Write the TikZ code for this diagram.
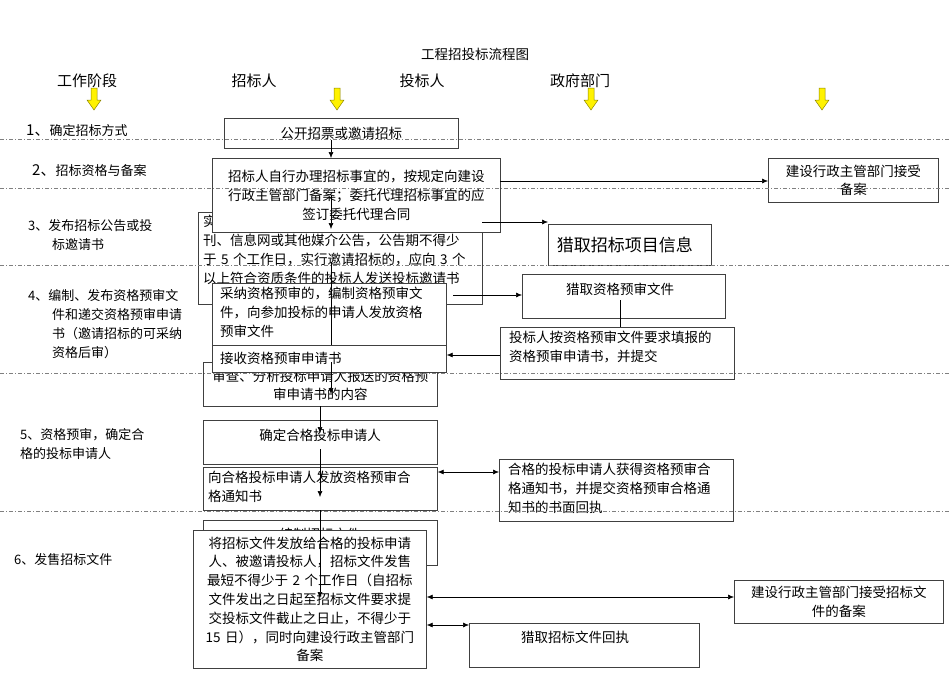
\documentclass[tikz,border=0pt]{standalone}
\usepackage{fontspec}
\setmainfont{Noto Sans CJK SC}
\usetikzlibrary{arrows.meta}
\tikzset{
 bx/.style={draw=black!75,fill=white,line width=0.7pt,inner sep=3pt},
 ln/.style={line width=0.6pt},
 ar/.style={ln,-{Latex[length=6pt,width=5pt]}},
 dar/.style={ln,{Latex[length=6pt,width=5pt]}-{Latex[length=6pt,width=5pt]}},
 sep/.style={line width=0.6pt,gray,dash pattern=on 4pt off 2pt on 1pt off 2pt},
 tx/.style={font=\fontsize{13.5}{18.8}\selectfont,inner sep=0pt},
 lab/.style={font=\fontsize{13}{19}\selectfont,inner sep=0pt,anchor=north west,align=left},
 hd/.style={font=\fontsize{15}{17}\selectfont,inner sep=0pt},
}
\newcommand{\yarr}[2]{\filldraw[fill=yellow,draw=olive,line width=0.5pt]
 (#1-3,#2) -- (#1+3,#2) -- (#1+3,#2+12) -- (#1+7,#2+12) -- (#1,#2+22) -- (#1-7,#2+12) -- (#1-3,#2+12) -- cycle;}
\begin{document}
\begin{tikzpicture}[x=1pt,y=-1pt]
\useasboundingbox (0,0) rectangle (950,672);
% headers
\node[tx] (title) at (475,54) {工程招投标流程图};
\node[hd] (h1) at (87,81) {工作阶段};
\node[hd] (h2) at (254,81) {招标人};
\node[hd] (h3) at (422,81) {投标人};
\node[hd] (h4) at (580,81) {政府部门};
\yarr{94}{88}\yarr{337}{88}\yarr{591}{88}\yarr{822}{88}
% left labels
\node[lab] (l1) at (26,124) {{\fontsize{15}{16}\selectfont 1、}确定招标方式};
\node[lab] (l2) at (32,164) {{\fontsize{15}{16}\selectfont 2、}招标资格与备案};
\node[lab] (l3) at (28,219) {3、发布招标公告或投\\\hspace*{24pt}标邀请书};
\node[lab] (l4) at (28,289) {4、编制、发布资格预审文\\\hspace*{24pt}件和递交资格预审申请\\\hspace*{24pt}书（邀请招标的可采纳\\\hspace*{24pt}资格后审）};
\node[lab] (l5) at (20,428) {5、资格预审，确定合\\格的投标申请人};
\node[lab] (l6) at (14,553) {6、发售招标文件};
% boxes (drawn in stacking order)
\node[bx,minimum width=234,minimum height=30,anchor=north west] (b1) at (224,118) {};
\node[tx] at (b1.center) {公开招票或邀请招标};
\node[bx,minimum width=284,minimum height=92,anchor=north west] (b3) at (198,212) {};
\node[tx,anchor=north west,align=left,text width=290] at (203,215) {实行公开招标的，应在国家或地方指定的报\\刊、信息网或其他媒介公告，公告期不得少\\于 5 个工作日，实行邀请招标的，应向 3 个\\以上符合资质条件的投标人发送投标邀请书};
\node[bx,minimum width=288,minimum height=74,anchor=north west] (b2) at (212,158) {};
\node[tx,align=center,text width=286] at (b2.center) {招标人自行办理招标事宜的，按规定向建设\\行政主管部门备案；委托代理招标事宜的应\\签订委托代理合同};
\node[bx,minimum width=234,minimum height=44,anchor=north west] (b6) at (203,362) {};
\node[tx,align=center,text width=240] at ([yshift=-1]b6.center) {审查、分析投标申请人报送的资格预\\审申请书的内容};
\node[bx,minimum width=234,minimum height=62,anchor=north west] (b4) at (212,283) {};
\node[tx,anchor=north west,align=left,text width=240] at (220,287) {采纳资格预审的，编制资格预审文\\件，向参加投标的申请人发放资格\\预审文件};
\node[bx,minimum width=234,minimum height=27,anchor=north west] (b5) at (212,345) {};
\node[tx,anchor=west] at (220,358) {接收资格预审申请书};
\node[bx,minimum width=234,minimum height=44,anchor=north west] (b7) at (203,420) {};
\node[tx] at (320,435) {确定合格投标申请人};
\node[bx,minimum width=234,minimum height=43,anchor=north west] (b8) at (203,467) {};
\node[tx,anchor=north west,align=left,text width=240] at (208,471) {向合格投标申请人发放资格预审合\\格通知书};
\node[bx,minimum width=234,minimum height=45,anchor=north west] (b9) at (203,520) {};
\node[tx] at (320,534) {编制招标文件};
\node[bx,minimum width=233,minimum height=138,anchor=north west] (b10) at (193,530) {};
\node[tx,align=center,text width=240] at (b10.center) {将招标文件发放给合格的投标申请\\人、被邀请投标人，招标文件发售\\最短不得少于 2 个工作日（自招标\\文件发出之日起至招标文件要求提\\交投标文件截止之日止，不得少于\\15 日），同时向建设行政主管部门\\备案};
% right boxes
\node[bx,minimum width=170,minimum height=44,anchor=north west] (r1) at (768,158) {};
\node[tx,align=center,text width=170] at (r1.center) {建设行政主管部门接受\\备案};
\node[bx,minimum width=163,minimum height=41,anchor=north west] (r2) at (548,224) {};
\node[tx,font=\fontsize{17}{20}\selectfont] at ([xshift=-5]r2.center) {猎取招标项目信息};
\node[bx,minimum width=203,minimum height=44,anchor=north west] (r3) at (522,274) {};
\node[tx] at (620,289) {猎取资格预审文件};
\node[bx,minimum width=234,minimum height=52,anchor=north west] (r4) at (500,327) {};
\node[tx,anchor=north west,align=left,text width=240] at (509,331) {投标人按资格预审文件要求填报的\\资格预审申请书，并提交};
\node[bx,minimum width=234,minimum height=62,anchor=north west] (r5) at (499,459) {};
\node[tx,anchor=north west,align=left,text width=240] at (508,463) {合格的投标申请人获得资格预审合\\格通知书，并提交资格预审合格通\\知书的书面回执};
\node[bx,minimum width=209,minimum height=43,anchor=north west] (r6) at (734,580) {};
\node[tx,align=center,text width=210] at (r6.center) {建设行政主管部门接受招标文\\件的备案};
\node[bx,minimum width=230,minimum height=44,anchor=north west] (r7) at (469,623) {};
\node[tx] at (575,637) {猎取招标文件回执};
% separators
\foreach \yy in {139,188,265,373,511} \draw[sep] (0,\yy) -- (950,\yy);
% connectors
\coordinate (c1) at (331,140);
\draw[ar] (c1) -- (b2.north -| c1);
\coordinate (c2) at (331,195);
\draw[ar] (c2) -- (331,229);
\draw[ln] (331,262) -- (331,345);
\coordinate (c3) at (331,362);
\draw[ar] (c3) -- (331,394);
\draw[ar] (320,406) -- (320,433);
\draw[ar] (320,449) -- (320,497);
\draw[ar] (320,510) -- (320,598);
\draw[ar] (500,181) -- (r1.west |- 0,181);
\draw[ar] (482,222) -- (r2.west |- 0,222);
\draw[ar] (453,295) -- (r3.west |- 0,295);
\draw[ln] (620,300) -- (r4.north -| 620,0);
\draw[ar] (r4.west |- 0,355) -- (b5.east |- 0,355);
\draw[dar] (b8.east |- 0,472) -- (r5.west |- 0,472);
\draw[dar] (b10.east |- 0,597) -- (r6.west |- 0,597);
\draw[dar] (b10.east |- 0,625) -- (r7.west |- 0,625);
\end{tikzpicture}
\end{document}
